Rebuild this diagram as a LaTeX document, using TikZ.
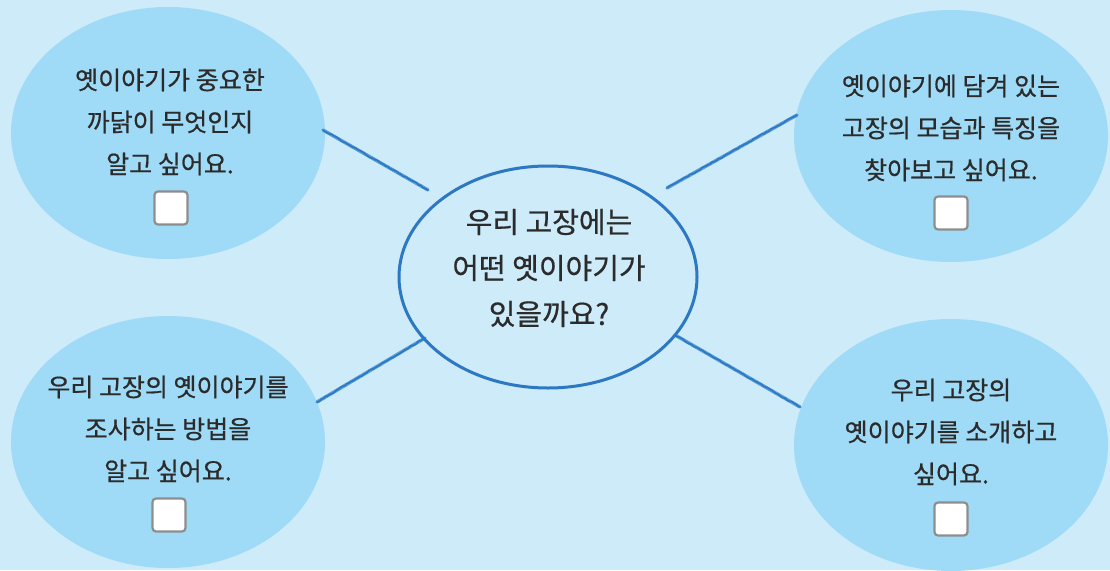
\documentclass[tikz,border=0pt]{standalone}
\usepackage{fontspec}
\setmainfont[FakeBold=0.6]{Noto Sans CJK KR}
\usetikzlibrary{shapes.geometric,decorations.pathmorphing}
\definecolor{bgc}{HTML}{CDEBF9}
\definecolor{ellc}{HTML}{9FDBF6}
\definecolor{crayon}{HTML}{2C78C2}
\definecolor{crayonlt}{HTML}{5A9ED8}
\definecolor{txt}{HTML}{2B2B2B}
\definecolor{boxedge}{HTML}{8E8E8E}
\tikzset{
  bubble/.style={ellipse, fill=ellc, draw=none, minimum width=314pt, minimum height=252pt, inner sep=0pt},
  hub/.style={ellipse, draw=crayon, line width=3pt, minimum width=298pt, minimum height=222pt, inner sep=0pt},
  label/.style={align=center, text=txt, font=\fontsize{25}{42}\selectfont},
  hublabel/.style={align=center, text=txt, font=\fontsize{29}{46}\selectfont},
  tick/.style={draw=boxedge, fill=white, line width=2.2pt, rounded corners=3.5pt, minimum width=33pt, minimum height=33pt, inner sep=0pt},
  crayonline/.style={draw=crayonlt, line width=3.4pt, line cap=round},
  crayoncore/.style={draw=crayon, line width=1.6pt, line cap=round, decorate, decoration={random steps, segment length=2.5pt, amplitude=0.6pt}},
}
\begin{document}
\begin{tikzpicture}[x=1pt,y=-1pt]
\useasboundingbox (0,0) rectangle (1110,570);
\fill[bgc] (0,0) rectangle (1110,570);

% bubbles
\node[bubble] (tl) at (168,133) {};
\node[bubble] (tr) at (951,136) {};
\node[bubble] (bl) at (168,442) {};
\node[bubble] (br) at (951,445) {};

% connector ends
\coordinate (tlE) at (323,130);
\coordinate (cTL) at (428,190);
\coordinate (trE) at (797,115);
\coordinate (cTR) at (667,188);
\coordinate (blE) at (317,402);
\coordinate (cBL) at (425,338);
\coordinate (brE) at (800,407);
\coordinate (cBR) at (675,335);

\foreach \a/\b in {tlE/cTL, trE/cTR, blE/cBL, brE/cBR}{
  \draw[crayonline] (\a) -- (\b);
  \draw[crayoncore] (\a) -- (\b);
}

% hub
\node[hub] (c) at (548,277) {};

% texts
\node[hublabel] (ct) at (549,268) {우리 고장에는\\어떤 옛이야기가\\있을까요?};
\node[label] (tlt) at (170,122) {옛이야기가 중요한\\까닭이 무엇인지\\알고 싶어요.};
\node[label] (trt) at (951,128) {옛이야기에 담겨 있는\\고장의 모습과 특징을\\찾아보고 싶어요.};
\node[label] (blt) at (168,429) {우리 고장의 옛이야기를\\조사하는 방법을\\알고 싶어요.};
\node[label] (brt) at (951,432) {우리 고장의\\옛이야기를 소개하고\\싶어요.};

% check boxes
\node[tick] (tlb) at (171,208) {};
\node[tick] (trb) at (951,213) {};
\node[tick] (blb) at (169,515) {};
\node[tick] (brb) at (951,519) {};
\end{tikzpicture}
\end{document}
